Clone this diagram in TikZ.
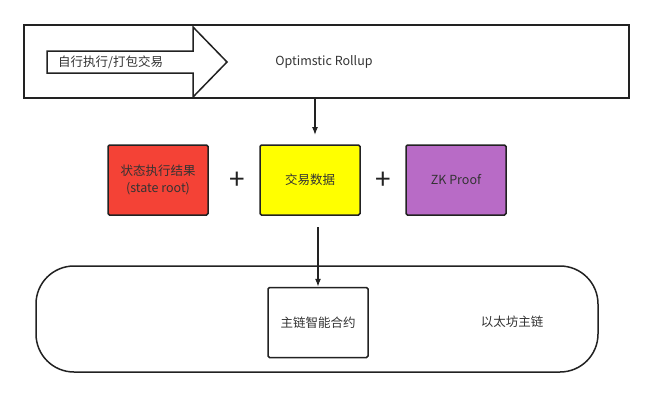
\documentclass[tikz,border=0pt]{standalone}
\usepackage{fontspec}
\setmainfont{Noto Sans CJK SC}
\usetikzlibrary{arrows.meta,positioning,calc}
\definecolor{dark}{HTML}{222222}
\definecolor{txt}{HTML}{333333}
\definecolor{rootred}{HTML}{F44236}
\definecolor{datayellow}{HTML}{FFFF00}
\definecolor{proofpurple}{HTML}{B86BC6}
\tikzset{
  box/.style={draw=dark, rounded corners=1.5pt, line width=1.5pt, align=center, text=txt,
    minimum width=100pt, minimum height=70pt, inner sep=2pt, font=\fontsize{12.5}{17}\selectfont},
  redbox/.style={box, fill=rootred},
  yellowbox/.style={box, fill=datayellow},
  purplebox/.style={box, fill=proofpurple},
  whitebox/.style={box, fill=white},
  label/.style={text=txt, font=\fontsize{12.5}{16}\selectfont, inner sep=0pt},
  plus/.style={text=dark, font=\fontsize{28}{28}\selectfont, inner sep=0pt},
  arrow/.style={-{Latex[length=8pt,width=6pt]}, line width=1.2pt, draw=dark}
}
\begin{document}
\begin{tikzpicture}[x=1pt, y=-1pt]
  \useasboundingbox (0,0) rectangle (648,397);
  % rollup layer
  \node[draw=dark, line width=2pt, minimum width=605pt, minimum height=73pt, inner sep=0pt] (rollup) at (326.5,61.5) {};
  \draw[draw=dark, line width=1.5pt, fill=white]
    (47,51) -- (193,51) -- (193,27) -- (227,62) -- (193,97) -- (193,73) -- (47,73) -- cycle;
  \node[label, anchor=west] (exec) at (58,62) {自行执行/打包交易};
  \node[label] (name) at (324,62) {Optimstic Rollup};
  % what gets posted
  \node[redbox] (root) at (158,180) {状态执行结果\\(state root)};
  \node[plus] (p1) at (237,181) {+};
  \node[yellowbox] (data) at (310,180) {交易数据};
  \node[plus] (p2) at (383,181) {+};
  \node[purplebox] (proof) at (456,180) {ZK Proof};
  % main chain
  \node[draw=dark, line width=1.5pt, rounded corners=38pt, minimum width=562pt, minimum height=106pt, inner sep=0pt] (chain) at (317,319) {};
  \node[whitebox] (contract) at (318,322.5) {主链智能合约};
  \node[label] (eth) at (512,322) {以太坊主链};
  \coordinate (down1) at (315,135);
  \coordinate (up2) at (318,227);
  \draw[arrow] (rollup.south -| down1) -- (down1);
  \draw[arrow] (up2) -- (contract.north);
\end{tikzpicture}
\end{document}
